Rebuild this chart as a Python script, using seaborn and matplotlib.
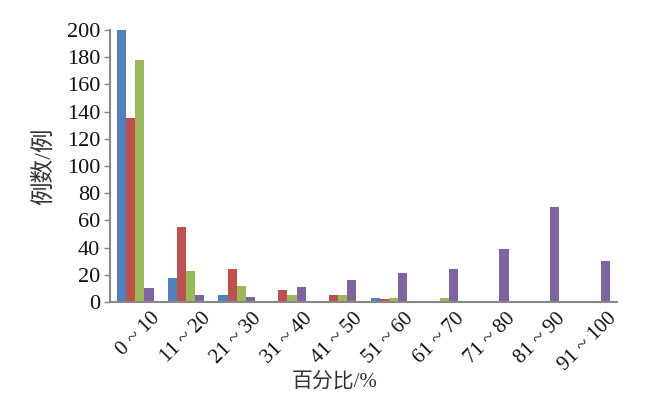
import matplotlib
matplotlib.use("Agg")
import matplotlib.pyplot as plt
import seaborn as sns
import pandas as pd

categories = ["0 ~ 10", "11 ~ 20", "21 ~ 30", "31 ~ 40", "41 ~ 50",
              "51 ~ 60", "61 ~ 70", "71 ~ 80", "81 ~ 90", "91 ~ 100"]
series_names = ["系列1", "系列2", "系列3", "系列4"]
s1 = [200, 18, 5, 1, 0, 3, 0, 0, 0, 0]
s2 = [135, 55, 24, 9, 5, 2, 0, 0, 0, 0]
s3 = [178, 23, 12, 5, 5, 3, 3, 0, 1, 0]
s4 = [10, 5, 3.5, 11, 16, 21, 24, 39, 70, 30]
colors = ["#4F81BD", "#C0504D", "#9BBB59", "#8064A2"]
yticks = list(range(0, 201, 20))

rows = []
for name, vals in zip(series_names, [s1, s2, s3, s4]):
    for c, v in zip(categories, vals):
        rows.append({"range": c, "count": v, "series": name})
df = pd.DataFrame(rows)

sns.set_style("white")
plt.rcParams["font.family"] = ["Liberation Serif", "Noto Sans CJK SC"]

fig = plt.figure(figsize=(6.6, 3.97), dpi=100)
ax = fig.add_axes([110 / 660, 1 - 302 / 397, 507 / 660, 272 / 397])

sns.barplot(data=df, x="range", y="count", hue="series", order=categories,
            hue_order=series_names, palette=colors, saturation=1,
            width=0.72, gap=0, ax=ax, legend=False, linewidth=0)

ax.set_ylim(0, 200)
ax.set_xlim(-0.5, len(categories) - 0.5)
ax.set_yticks(yticks)
ax.set_yticklabels([str(t) for t in yticks], fontsize=16, color="#111111")
# labels anchored slightly right of each category centre, as in the reference
label_shift = 0.3
ax.set_xticks([i + label_shift for i in range(len(categories))])
ax.set_xticklabels(categories, rotation=45, ha="right", rotation_mode="anchor",
                   fontsize=15, color="#111111")
ax.tick_params(axis="y", direction="out", length=4, width=1, color="#888888",
               left=True, pad=3)
ax.tick_params(axis="x", length=0, pad=5)
for side in ["top", "right"]:
    ax.spines[side].set_visible(False)
for side in ["left", "bottom"]:
    ax.spines[side].set_color("#888888")
    ax.spines[side].set_linewidth(1.5)

ax.set_ylabel("例数/例", fontsize=17, color="#333333")
ax.set_xlabel("百分比/%", fontsize=15, color="#333333", va="center")
ax.xaxis.set_label_coords((335 - 110) / 507, -(382 - 302) / 272)
ax.yaxis.set_label_coords(-(110 - 44) / 507, (302 - 166) / 272)
ax.yaxis.label.set_va("center")

fig.savefig("out.png", dpi=100)
